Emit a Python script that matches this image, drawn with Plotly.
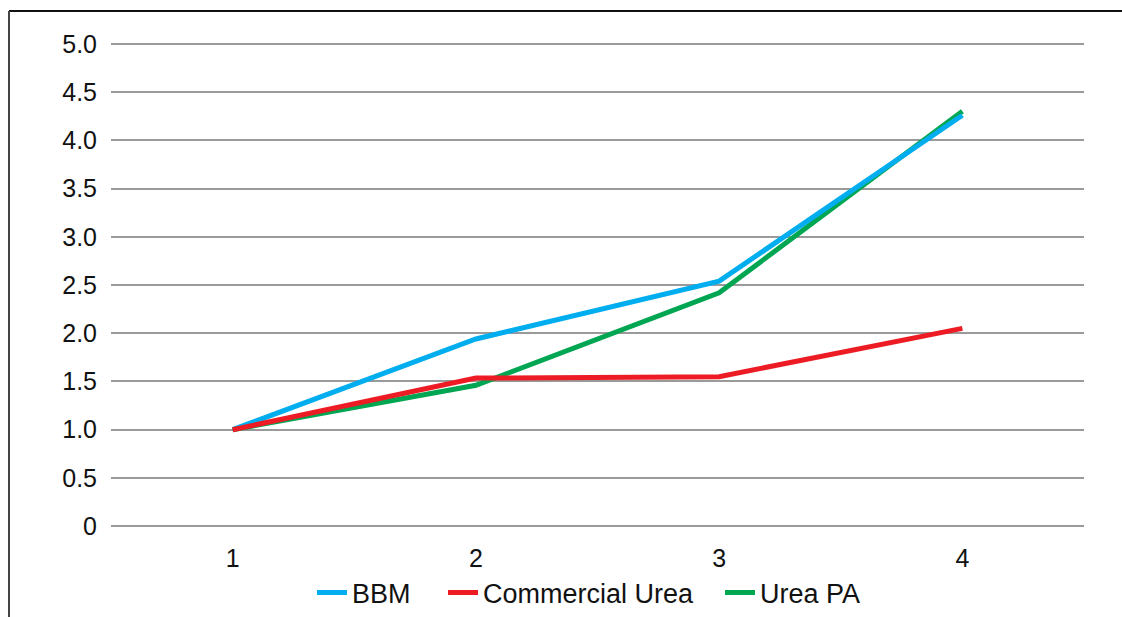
import plotly.graph_objects as go

categories = ["1", "2", "3", "4"]
bbm = [1.0, 1.94, 2.54, 4.26]
commercial_urea = [1.0, 1.535, 1.55, 2.05]
urea_pa = [1.0, 1.46, 2.42, 4.30]
y_ticks = [0, 0.5, 1.0, 1.5, 2.0, 2.5, 3.0, 3.5, 4.0, 4.5, 5.0]
y_tick_text = ["0", "0.5", "1.0", "1.5", "2.0", "2.5", "3.0", "3.5", "4.0", "4.5", "5.0"]

W, H = 1122, 617
ML, MR, MT, MB = 111, 38, 39, 86
font = "Liberation Sans, Arial, sans-serif"

series = [("Urea PA", urea_pa, "#00A651", "legend3", 720),
          ("BBM", bbm, "#00AEEF", "legend", 312),
          ("Commercial Urea", commercial_urea, "#ED1C24", "legend2", 443)]

fig = go.Figure()
for name, vals, col, leg, _ in series:
    fig.add_trace(go.Scatter(x=categories, y=vals, mode="lines", name=name,
                             legend=leg, line=dict(color=col, width=5)))

pw = W - ML - MR
ph = H - MT - MB
def px2x(p):
    return (p - ML) / pw
def py2y(p):
    return (H - MB - p) / ph

legend_style = dict(orientation="h", xanchor="left", xref="container",
                    y=1 - 593 / H, yanchor="middle", yref="container",
                    font=dict(size=27), itemwidth=30, bgcolor="rgba(0,0,0,0)")
legends = {}
for name, vals, col, leg, xpos in series:
    legends[leg] = dict(legend_style, x=xpos / W)

fig.update_layout(
    width=W, height=H,
    margin=dict(l=ML, r=MR, t=MT, b=MB, autoexpand=False),
    paper_bgcolor="white", plot_bgcolor="white",
    font=dict(family=font, size=25, color="#111"),
    showlegend=True,
    xaxis=dict(type="category", range=[-0.5, 3.5], showgrid=False, zeroline=False,
               showline=False, ticks="outside", ticklen=5, tickcolor="rgba(0,0,0,0)",
               tickfont=dict(size=25), fixedrange=True),
    yaxis=dict(range=[-0.05, 5.05], tickvals=y_ticks, ticktext=y_tick_text,
               showgrid=True, gridcolor="#9a9a9a", gridwidth=2, zeroline=False,
               showline=False, ticks="outside", ticklen=8, tickcolor="rgba(0,0,0,0)",
               tickfont=dict(size=25)),
    shapes=[
        dict(type="line", xref="paper", yref="paper", x0=px2x(9), x1=px2x(1125),
             y0=py2y(11), y1=py2y(11), line=dict(color="#111", width=2)),
        dict(type="line", xref="paper", yref="paper", x0=px2x(9), x1=px2x(9),
             y0=py2y(11), y1=py2y(620), line=dict(color="#444", width=2)),
    ],
    **legends,
)

fig.write_html("out.html")
